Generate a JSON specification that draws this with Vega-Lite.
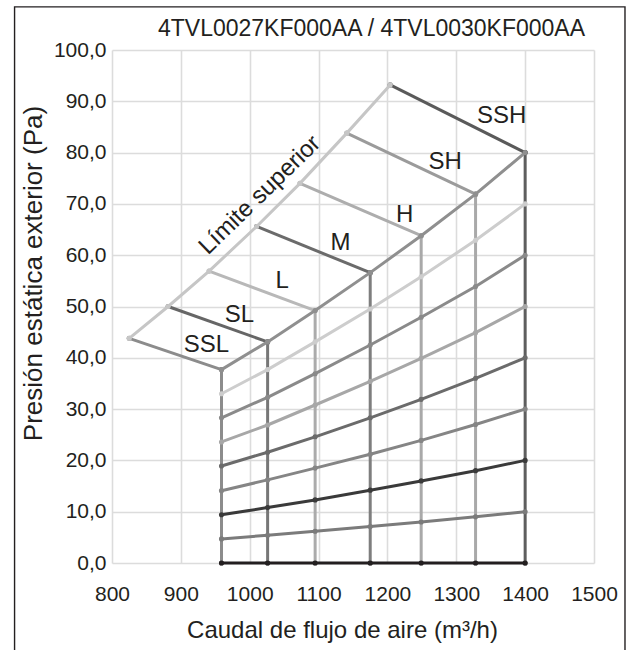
{
  "$schema": "https://vega.github.io/schema/vega-lite/v6.json",
  "width": 482,
  "height": 513,
  "autosize": {"type": "none"},
  "padding": {"left": 112, "top": 50, "right": 34, "bottom": 87},
  "background": "white",
  "config": {
    "font": "Liberation Sans",
    "view": {"stroke": null},
    "axis": {
      "labelFont": "Liberation Sans",
      "titleFont": "Liberation Sans",
      "labelColor": "#231f20",
      "titleColor": "#231f20",
      "titleFontWeight": "normal",
      "grid": true,
      "gridColor": "#dcdcdc",
      "gridWidth": 1.6,
      "domain": false,
      "ticks": false,
      "labelOverlap": false,
      "labelFlush": false
    }
  },
  "datasets": {
    "lines": [
      {"part": "v", "g": "vSSL", "x": 959, "y": 0}, {"part": "v", "g": "vSSL", "x": 959, "y": 37.7},
      {"part": "v", "g": "vSL", "x": 1026, "y": 0}, {"part": "v", "g": "vSL", "x": 1026, "y": 43.1},
      {"part": "v", "g": "vL", "x": 1095, "y": 0}, {"part": "v", "g": "vL", "x": 1095, "y": 49.2},
      {"part": "v", "g": "vM", "x": 1175, "y": 0}, {"part": "v", "g": "vM", "x": 1175, "y": 56.6},
      {"part": "v", "g": "vH", "x": 1249, "y": 0}, {"part": "v", "g": "vH", "x": 1249, "y": 63.8},
      {"part": "v", "g": "vSH", "x": 1328, "y": 0}, {"part": "v", "g": "vSH", "x": 1328, "y": 71.9},
      {"part": "v", "g": "vSSH", "x": 1400, "y": 0}, {"part": "v", "g": "vSSH", "x": 1400, "y": 80},

      {"part": "d", "g": "dSSL", "x": 825, "y": 43.8}, {"part": "d", "g": "dSSL", "x": 959, "y": 37.7},
      {"part": "d", "g": "dSL", "x": 881.5, "y": 50.0}, {"part": "d", "g": "dSL", "x": 1026, "y": 43.1},
      {"part": "d", "g": "dL", "x": 941, "y": 56.9}, {"part": "d", "g": "dL", "x": 1095, "y": 49.2},
      {"part": "d", "g": "dM", "x": 1010, "y": 65.6}, {"part": "d", "g": "dM", "x": 1175, "y": 56.6},
      {"part": "d", "g": "dH", "x": 1073, "y": 74.0}, {"part": "d", "g": "dH", "x": 1249, "y": 63.8},
      {"part": "d", "g": "dSH", "x": 1141, "y": 83.8}, {"part": "d", "g": "dSH", "x": 1328, "y": 71.9},
      {"part": "d", "g": "dSSH", "x": 1204, "y": 93.2}, {"part": "d", "g": "dSSH", "x": 1400, "y": 80},

      {"part": "lim", "g": "lim", "x": 825, "y": 43.8},
      {"part": "lim", "g": "lim", "x": 881.5, "y": 50.0},
      {"part": "lim", "g": "lim", "x": 941, "y": 56.9},
      {"part": "lim", "g": "lim", "x": 1010, "y": 65.6},
      {"part": "lim", "g": "lim", "x": 1073, "y": 74.0},
      {"part": "lim", "g": "lim", "x": 1141, "y": 83.8},
      {"part": "lim", "g": "lim", "x": 1204, "y": 93.2},

      {"part": "k", "g": "k0", "x": 959, "y": 0}, {"part": "k", "g": "k0", "x": 1026, "y": 0}, {"part": "k", "g": "k0", "x": 1095, "y": 0}, {"part": "k", "g": "k0", "x": 1175, "y": 0}, {"part": "k", "g": "k0", "x": 1249, "y": 0}, {"part": "k", "g": "k0", "x": 1328, "y": 0}, {"part": "k", "g": "k0", "x": 1400, "y": 0},
      {"part": "k", "g": "k1", "x": 959, "y": 4.7}, {"part": "k", "g": "k1", "x": 1026, "y": 5.4}, {"part": "k", "g": "k1", "x": 1095, "y": 6.2}, {"part": "k", "g": "k1", "x": 1175, "y": 7.1}, {"part": "k", "g": "k1", "x": 1249, "y": 8.0}, {"part": "k", "g": "k1", "x": 1328, "y": 9.0}, {"part": "k", "g": "k1", "x": 1400, "y": 10},
      {"part": "k", "g": "k2", "x": 959, "y": 9.4}, {"part": "k", "g": "k2", "x": 1026, "y": 10.8}, {"part": "k", "g": "k2", "x": 1095, "y": 12.3}, {"part": "k", "g": "k2", "x": 1175, "y": 14.2}, {"part": "k", "g": "k2", "x": 1249, "y": 16.0}, {"part": "k", "g": "k2", "x": 1328, "y": 18.0}, {"part": "k", "g": "k2", "x": 1400, "y": 20},
      {"part": "k", "g": "k3", "x": 959, "y": 14.1}, {"part": "k", "g": "k3", "x": 1026, "y": 16.2}, {"part": "k", "g": "k3", "x": 1095, "y": 18.5}, {"part": "k", "g": "k3", "x": 1175, "y": 21.2}, {"part": "k", "g": "k3", "x": 1249, "y": 23.9}, {"part": "k", "g": "k3", "x": 1328, "y": 27.0}, {"part": "k", "g": "k3", "x": 1400, "y": 30},
      {"part": "k", "g": "k4", "x": 959, "y": 18.9}, {"part": "k", "g": "k4", "x": 1026, "y": 21.6}, {"part": "k", "g": "k4", "x": 1095, "y": 24.6}, {"part": "k", "g": "k4", "x": 1175, "y": 28.3}, {"part": "k", "g": "k4", "x": 1249, "y": 31.9}, {"part": "k", "g": "k4", "x": 1328, "y": 36.0}, {"part": "k", "g": "k4", "x": 1400, "y": 40},
      {"part": "k", "g": "k5", "x": 959, "y": 23.6}, {"part": "k", "g": "k5", "x": 1026, "y": 26.9}, {"part": "k", "g": "k5", "x": 1095, "y": 30.8}, {"part": "k", "g": "k5", "x": 1175, "y": 35.4}, {"part": "k", "g": "k5", "x": 1249, "y": 39.9}, {"part": "k", "g": "k5", "x": 1328, "y": 44.9}, {"part": "k", "g": "k5", "x": 1400, "y": 50},
      {"part": "k", "g": "k6", "x": 959, "y": 28.3}, {"part": "k", "g": "k6", "x": 1026, "y": 32.3}, {"part": "k", "g": "k6", "x": 1095, "y": 36.9}, {"part": "k", "g": "k6", "x": 1175, "y": 42.5}, {"part": "k", "g": "k6", "x": 1249, "y": 47.9}, {"part": "k", "g": "k6", "x": 1328, "y": 53.9}, {"part": "k", "g": "k6", "x": 1400, "y": 60},
      {"part": "k", "g": "k7", "x": 959, "y": 33.0}, {"part": "k", "g": "k7", "x": 1026, "y": 37.7}, {"part": "k", "g": "k7", "x": 1095, "y": 43.1}, {"part": "k", "g": "k7", "x": 1175, "y": 49.5}, {"part": "k", "g": "k7", "x": 1249, "y": 55.8}, {"part": "k", "g": "k7", "x": 1328, "y": 62.9}, {"part": "k", "g": "k7", "x": 1400, "y": 70},
      {"part": "k", "g": "k8", "x": 959, "y": 37.7}, {"part": "k", "g": "k8", "x": 1026, "y": 43.1}, {"part": "k", "g": "k8", "x": 1095, "y": 49.2}, {"part": "k", "g": "k8", "x": 1175, "y": 56.6}, {"part": "k", "g": "k8", "x": 1249, "y": 63.8}, {"part": "k", "g": "k8", "x": 1328, "y": 71.9}, {"part": "k", "g": "k8", "x": 1400, "y": 80}
    ],
    "labels": [
      {"t": "SSL", "x": 937, "y": 42.5},
      {"t": "SL", "x": 985, "y": 48.4},
      {"t": "L", "x": 1047, "y": 54.9},
      {"t": "M", "x": 1132, "y": 62.3},
      {"t": "H", "x": 1225, "y": 67.9},
      {"t": "SH", "x": 1284, "y": 78.2},
      {"t": "SSH", "x": 1366, "y": 87.1}
    ],
    "limitLabel": [
      {"t": "Límite superior", "x": 1015, "y": 71.7}
    ],
    "heading": [
      {"t": "4TVL0027KF000AA / 4TVL0030KF000AA", "x": 1487, "y": 102.8}
    ]
  },
  "encoding": {
    "x": {
      "field": "x",
      "type": "quantitative",
      "scale": {"domain": [800, 1500], "nice": false, "zero": false},
      "axis": {
        "values": [800, 900, 1000, 1100, 1200, 1300, 1400, 1500],
        "format": "d",
        "labelFontSize": 21,
        "labelPadding": 20,
        "title": "Caudal de flujo de aire (m³/h)",
        "titleFontSize": 24,
        "titleX": 230,
        "titleY": 74,
        "titleBaseline": "alphabetic",
        "titleAlign": "center"
      }
    },
    "y": {
      "field": "y",
      "type": "quantitative",
      "scale": {"domain": [0, 100], "nice": false, "zero": false},
      "axis": {
        "values": [0, 10, 20, 30, 40, 50, 60, 70, 80, 90, 100],
        "labelExpr": "replace(format(datum.value, '.1f'), '.', ',')",
        "labelFontSize": 21,
        "labelPadding": 6,
        "title": "Presión estática exterior (Pa)",
        "titleFontSize": 26,
        "titleAngle": 270,
        "titleX": -71,
        "titleY": 223,
        "titleBaseline": "alphabetic",
        "titleAlign": "center"
      }
    }
  },
  "layer": [
    {
      "data": {"values": [{"x0": 658.5, "x1": 1545, "y0": 108.4, "y1": -20}]},
      "mark": {"type": "rect", "filled": false, "stroke": "#231f20", "strokeWidth": 1.4},
      "encoding": {
        "x": {"field": "x0", "type": "quantitative"},
        "x2": {"field": "x1"},
        "y": {"field": "y0", "type": "quantitative"},
        "y2": {"field": "y1"}
      }
    },
    {
      "data": {"name": "lines"},
      "transform": [{"filter": "datum.part == 'v'"}],
      "mark": {"type": "line", "strokeWidth": 3, "point": {"filled": true, "size": 26}},
      "encoding": {
        "color": {"field": "g", "type": "nominal", "legend": null,
          "scale": {
            "domain": ["vSSL","vSL","vL","vM","vH","vSH","vSSH","dSSL","dSL","dL","dM","dH","dSH","dSSH","lim","k0","k1","k2","k3","k4","k5","k6","k7","k8"],
            "range": ["#8c8c8c","#777777","#ababab","#7e7e7e","#a9a9a9","#a9a9a9","#5e5e5e","#8c8c8c","#666666","#b8b8b8","#6b6b6b","#adadad","#9b9b9b","#5a5a5a","#c6c6c6","#231f20","#7b7b7b","#3a3a3a","#858585","#6b6b6b","#a7a7a7","#8a8a8a","#cdcdcd","#8f8f8f"]
          }
        }
      }
    },
    {
      "data": {"name": "lines"},
      "transform": [{"filter": "datum.part == 'd'"}],
      "mark": {"type": "line", "strokeWidth": 3, "point": {"filled": true, "size": 26}},
      "encoding": {"color": {"field": "g", "type": "nominal", "legend": null}}
    },
    {
      "data": {"name": "lines"},
      "transform": [{"filter": "datum.part == 'lim'"}],
      "mark": {"type": "line", "strokeWidth": 3, "point": {"filled": true, "size": 26}},
      "encoding": {"color": {"field": "g", "type": "nominal", "legend": null}}
    },
    {
      "data": {"name": "lines"},
      "transform": [{"filter": "datum.part == 'k'"}],
      "mark": {"type": "line", "strokeWidth": 3, "point": {"filled": true, "size": 26}},
      "encoding": {"color": {"field": "g", "type": "nominal", "legend": null}}
    },
    {
      "data": {"name": "labels"},
      "mark": {"type": "text", "fontSize": 24, "color": "#231f20", "align": "center", "baseline": "middle", "font": "Liberation Sans"},
      "encoding": {"text": {"field": "t"}}
    },
    {
      "data": {"name": "limitLabel"},
      "mark": {"type": "text", "fontSize": 24, "color": "#231f20", "align": "center", "baseline": "middle", "angle": 315.8, "font": "Liberation Sans"},
      "encoding": {"text": {"field": "t"}}
    },
    {
      "data": {"name": "heading"},
      "mark": {"type": "text", "fontSize": 23, "color": "#231f20", "align": "right", "baseline": "alphabetic", "font": "Liberation Sans"},
      "encoding": {"text": {"field": "t"}}
    }
  ]
}
